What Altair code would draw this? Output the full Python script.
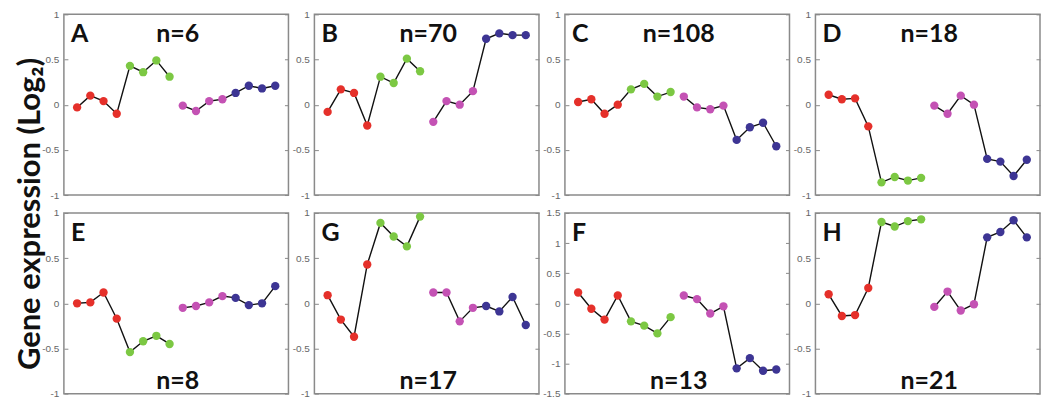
import altair as alt
import pandas as pd

# ---- data ----
letters = ["A", "B", "C", "D", "E", "G", "F", "H"]
counts = ["n=6", "n=70", "n=108", "n=18", "n=8", "n=17", "n=13", "n=21"]
n_pos = ["top", "top", "top", "top", "bottom", "bottom", "bottom", "bottom"]

vals_A = [-0.03, 0.10, 0.04, -0.10, 0.43, 0.36, 0.49, 0.31, -0.01, -0.07, 0.04, 0.06, 0.13, 0.21, 0.18, 0.21]
vals_B = [-0.08, 0.17, 0.13, -0.23, 0.31, 0.24, 0.51, 0.37, -0.19, 0.04, 0.00, 0.15, 0.73, 0.79, 0.77, 0.77]
vals_C = [0.03, 0.06, -0.10, 0.00, 0.17, 0.23, 0.09, 0.14, 0.09, -0.03, -0.05, -0.01, -0.39, -0.25, -0.20, -0.46]
vals_D = [0.11, 0.06, 0.07, -0.24, -0.86, -0.80, -0.84, -0.81, -0.01, -0.10, 0.10, 0.00, -0.60, -0.63, -0.79, -0.61]
vals_E = [0.00, 0.01, 0.12, -0.17, -0.54, -0.42, -0.36, -0.45, -0.05, -0.03, 0.01, 0.08, 0.06, -0.02, 0.00, 0.19]
vals_G = [0.09, -0.18, -0.37, 0.43, 0.89, 0.74, 0.63, 0.96, 0.12, 0.12, -0.20, -0.05, -0.03, -0.09, 0.07, -0.24]
vals_F = [0.18, -0.09, -0.27, 0.13, -0.30, -0.37, -0.50, -0.23, 0.13, 0.07, -0.17, -0.05, -1.08, -0.91, -1.12, -1.10]
vals_H = [0.10, -0.14, -0.13, 0.17, 0.90, 0.85, 0.91, 0.93, -0.04, 0.13, -0.08, -0.01, 0.73, 0.79, 0.92, 0.73]
all_vals = [vals_A, vals_B, vals_C, vals_D, vals_E, vals_G, vals_F, vals_H]

positions = list(range(1, 17))
groups = ["g1"] * 4 + ["g2"] * 4 + ["g3"] * 4 + ["g4"] * 4
segments = ["s1"] * 8 + ["s2"] * 8
group_names = ["g1", "g2", "g3", "g4"]
group_colors = ["#e5302a", "#7cc843", "#c452b4", "#3d3594"]

ticks_std = [-1, -0.5, 0, 0.5, 1]
ticks_F = [-1.5, -1, -0.5, 0, 0.5, 1, 1.5]
domains = [[-1, 1]] * 6 + [[-1.5, 1.5]] + [[-1, 1]]
tick_sets = [ticks_std] * 6 + [ticks_F] + [ticks_std]

W, H = 225, 181
FONT = "Lato"

panels = []
for i in range(8):
    df = pd.DataFrame({"x": positions, "y": all_vals[i], "grp": groups, "seg": segments})
    xs = alt.X("x:Q", scale=alt.Scale(domain=[0, 17]), axis=None)
    ysc = alt.Scale(domain=domains[i], nice=False, zero=False)
    base = alt.Chart(df)
    line = base.mark_line(color="#111111", strokeWidth=1.4).encode(
        x=xs,
        y=alt.Y("y:Q", scale=ysc, title=None,
                axis=alt.Axis(orient="left", values=tick_sets[i], offset=-4, tickSize=4,
                              domain=False, labelPadding=5, labelExpr="'' + datum.value")),
        detail="seg:N",
    )
    pts = base.mark_circle(size=70, opacity=1).encode(
        x=xs,
        y=alt.Y("y:Q", scale=ysc, title=None,
                axis=alt.Axis(orient="right", values=tick_sets[i], offset=-4, tickSize=4,
                              domain=False, labels=False)),
        color=alt.Color("grp:N", scale=alt.Scale(domain=group_names, range=group_colors), legend=None),
    )
    let = alt.Chart(pd.DataFrame({"t": [letters[i]]})).mark_text(
        font=FONT, fontWeight="bold", fontSize=25, align="left", baseline="alphabetic", color="#111111"
    ).encode(text="t:N", x=alt.value(7), y=alt.value(28))
    ny = 28 if n_pos[i] == "top" else 176
    nt = alt.Chart(pd.DataFrame({"t": [counts[i]]})).mark_text(
        font=FONT, fontWeight="bold", fontSize=25, align="center", baseline="alphabetic", color="#111111"
    ).encode(text="t:N", x=alt.value(114), y=alt.value(ny))
    p = alt.layer(line, pts, let, nt).resolve_scale(y="independent").properties(width=W, height=H)
    panels.append(p)

chart = alt.concat(*panels, columns=4, spacing={"row": 18, "column": 26}, bounds="flush").properties(
    title=alt.TitleParams("Gene expression (Log₂)", orient="left", anchor="middle",
                          fontSize=31, font=FONT, fontWeight="bold", color="#111111",
                          offset=-6, dx=-10),
    padding={"left": 7, "top": 0, "right": 0, "bottom": 0},
).configure_view(stroke="#8a8a8a", strokeWidth=1.5).configure_axis(
    labelFont="Liberation Sans", labelFontSize=10, labelColor="#666666",
    tickColor="#8a8a8a", tickWidth=1, grid=False,
)

chart.save("out.html", embed_options={"renderer": "svg", "actions": False})
